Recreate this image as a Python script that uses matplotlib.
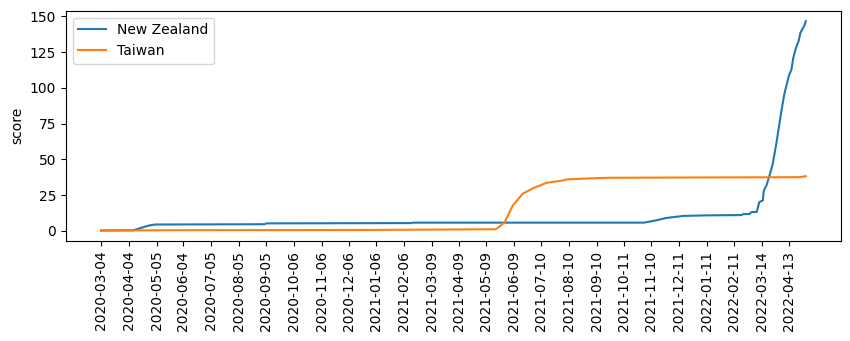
import matplotlib
matplotlib.use("Agg")
import matplotlib.pyplot as plt
import matplotlib.dates as mdates
import numpy as np

nz_dates = ["2020-03-04", "2020-04-09", "2020-04-26", "2020-05-03", "2020-09-03", "2020-09-05",
            "2021-02-14", "2021-02-16", "2021-11-02", "2021-11-16", "2021-11-27", "2021-12-16",
            "2022-01-11", "2022-02-19", "2022-02-21", "2022-02-28", "2022-03-02", "2022-03-08",
            "2022-03-11", "2022-03-15", "2022-03-16", "2022-03-19", "2022-03-23", "2022-03-26",
            "2022-03-30", "2022-04-03", "2022-04-05", "2022-04-08", "2022-04-13", "2022-04-16",
            "2022-04-18", "2022-04-21", "2022-04-24", "2022-04-26", "2022-05-01", "2022-05-02"]
nz_values = [0.3, 0.5, 3.7, 4.5, 4.7, 5.3,
             5.5, 5.8, 5.8, 7.5, 9.1, 10.5,
             10.9, 11.1, 11.8, 11.8, 13.2, 13.2,
             20.2, 21.4, 28.3, 31.8, 40.0, 46.9,
             60.9, 77.0, 85.0, 95.7, 108.4, 113.0,
             121.0, 128.0, 132.8, 138.6, 144.4, 146.7]

tw_dates = ["2020-03-04", "2020-06-01", "2021-01-01", "2021-05-20", "2021-05-24", "2021-05-30",
            "2021-06-08", "2021-06-19", "2021-07-01", "2021-07-16", "2021-08-03", "2021-08-07",
            "2021-08-30", "2021-09-25", "2022-04-25", "2022-05-02"]
tw_values = [0.3, 0.5, 0.7, 1.2, 3.0, 6.3,
             17.9, 26.0, 30.0, 33.7, 35.3, 36.0,
             36.7, 37.2, 37.6, 38.3]

tick_labels = ["2020-03-04", "2020-04-04", "2020-05-05", "2020-06-04", "2020-07-05", "2020-08-05",
               "2020-09-05", "2020-10-06", "2020-11-06", "2020-12-06", "2021-01-06", "2021-02-06",
               "2021-03-09", "2021-04-09", "2021-05-09", "2021-06-09", "2021-07-10", "2021-08-10",
               "2021-09-10", "2021-10-11", "2021-11-10", "2021-12-11", "2022-01-11", "2022-02-11",
               "2022-03-14", "2022-04-13"]

fig = plt.figure(figsize=(8.5, 3.41), dpi=100)
ax = fig.add_axes([0.0776, 0.2933, 0.9118, 0.6753])

ax.plot(np.array(nz_dates, dtype="datetime64[D]"), nz_values, label="New Zealand")
ax.plot(np.array(tw_dates, dtype="datetime64[D]"), tw_values, label="Taiwan")

ax.set_xticks(np.array(tick_labels, dtype="datetime64[D]"))
ax.set_xticklabels(tick_labels, rotation=90)
ax.set_ylabel("score")
ax.legend(loc="upper left")

fig.savefig("out.png", dpi=100)
